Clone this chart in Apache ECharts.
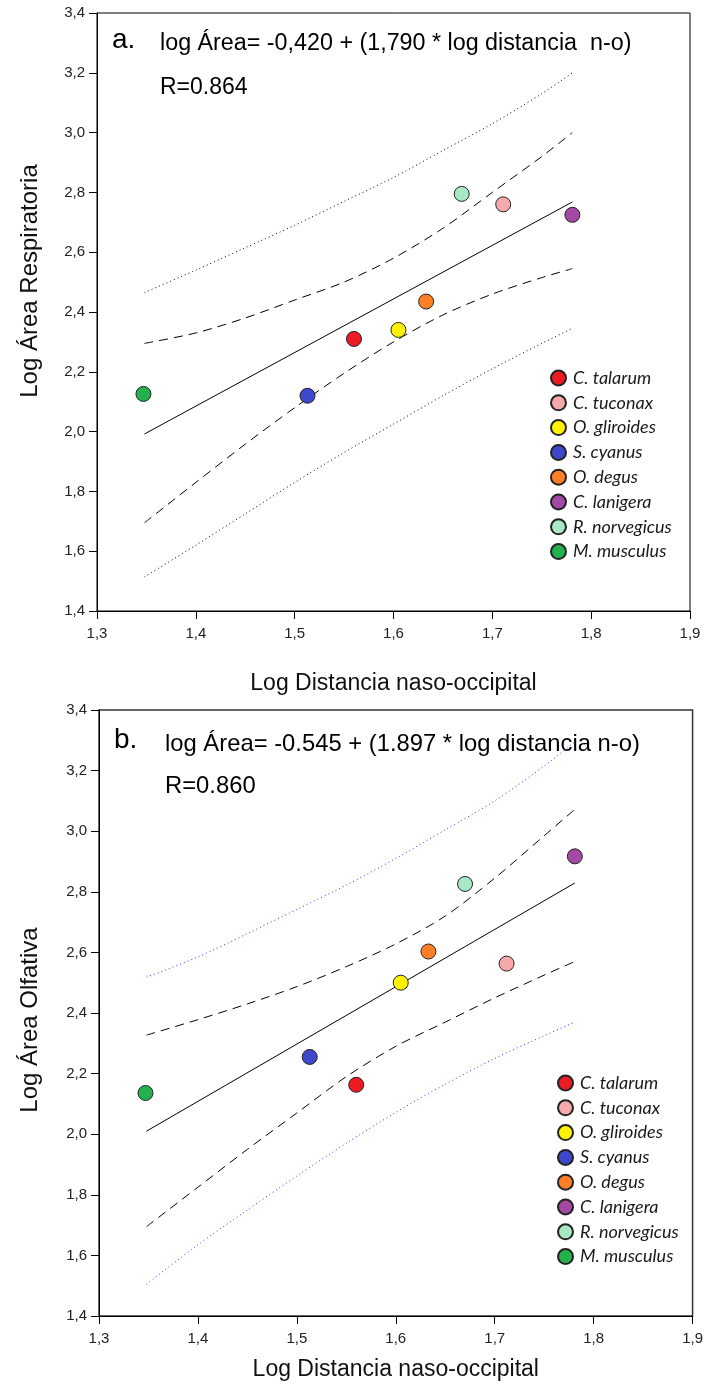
<!DOCTYPE html>
<html><head><meta charset="utf-8">
<script src="https://cdn.jsdelivr.net/npm/echarts@6/dist/echarts.min.js"></script>
<style>html,body{margin:0;padding:0;background:#fff}#c{width:706px;height:1389px}</style>
</head><body><div id="c"></div>
<script>
// ---- data ----
var species = ['C. talarum','C. tuconax','O. gliroides','S. cyanus','O. degus','C. lanigera','R. norvegicus','M. musculus'];
var colors = ['#ed1c24','#f5a9ab','#fff200','#3f48cc','#ff7f27','#a349a4','#a8e8c4','#22b14c'];
var xA = [1.560, 1.711, 1.605, 1.513, 1.633, 1.781, 1.669, 1.347];
var yA = [2.310, 2.760, 2.340, 2.120, 2.435, 2.725, 2.795, 2.126];
var xB = [1.560, 1.712, 1.605, 1.513, 1.633, 1.781, 1.670, 1.347];
var yB = [2.163, 2.563, 2.500, 2.255, 2.603, 2.917, 2.826, 2.136];

var bandX = [1.348, 1.40, 1.45, 1.50, 1.55, 1.60, 1.65, 1.70, 1.75, 1.781];
var regAx = [1.348, 1.781], regAy = [1.992, 2.768];
var ciUpA = [2.295, 2.330, 2.380, 2.440, 2.500, 2.580, 2.680, 2.800, 2.920, 3.000];
var ciLoA = [1.695, 1.830, 1.958, 2.080, 2.195, 2.300, 2.390, 2.460, 2.515, 2.545];
var piUpA = [2.465, 2.540, 2.615, 2.690, 2.770, 2.850, 2.940, 3.030, 3.130, 3.200];
var piLoA = [1.514, 1.620, 1.725, 1.830, 1.930, 2.025, 2.120, 2.210, 2.295, 2.345];

var regBx = [1.348, 1.781], regBy = [2.010, 2.829];
var ciUpB = [2.327, 2.378, 2.430, 2.487, 2.553, 2.628, 2.720, 2.845, 2.985, 3.072];
var ciLoB = [1.695, 1.825, 1.950, 2.070, 2.190, 2.290, 2.370, 2.450, 2.525, 2.570];
var piUpB = [2.518, 2.585, 2.662, 2.742, 2.822, 2.910, 3.005, 3.100, 3.215, 3.295];
var piLoB = [1.505, 1.635, 1.750, 1.862, 1.970, 2.072, 2.165, 2.250, 2.325, 2.370];

var xTicks = ['1,3','1,4','1,5','1,6','1,7','1,8','1,9'];
var yTicks = ['1,4','1,6','1,8','2,0','2,2','2,4','2,6','2,8','3,0','3,2','3,4'];

var eqA = 'log Área= -0,420 + (1,790 * log distancia  n-o)', rA = 'R=0.864';
var eqB = 'log Área= -0.545 + (1.897 * log distancia n-o)', rB = 'R=0.860';
var xTitle = 'Log Distancia naso-occipital';
var yTitleA = 'Log Área Respiratoria', yTitleB = 'Log Área Olfativa';

// ---- build ----
function zip(xs, ys){ return xs.map(function(x,i){ return [x, ys[i]]; }); }
var tickFont = {fontFamily:'Liberation Sans Narrow, Liberation Sans, Arial', fontSize:15, color:'#222'};
function xAxis(idx, gap){
  return {type:'value', gridIndex:idx, min:1.3, max:1.9, interval:0.1,
    name:xTitle, nameLocation:'middle', nameGap:gap,
    nameTextStyle:{fontFamily:'Liberation Sans, Arial', fontSize:23, color:'#111'},
    axisLine:{lineStyle:{color:'#000', width:1}}, axisTick:{inside:false, length:8, lineStyle:{color:'#000'}},
    splitLine:{show:false},
    axisLabel:Object.assign({margin:15, formatter:function(v){ return xTicks[Math.round((v-1.3)*10)]; }}, tickFont)};
}
function yAxis(idx){
  return {type:'value', gridIndex:idx, min:1.4, max:3.4, interval:0.2,
    axisLine:{lineStyle:{color:'#000', width:1}}, axisTick:{inside:false, length:8, lineStyle:{color:'#000'}},
    splitLine:{show:false},
    axisLabel:Object.assign({margin:12, formatter:function(v){ return yTicks[Math.round((v-1.4)*5)]; }}, tickFont)};
}
function line(idx, data, type, color){
  return {type:'line', xAxisIndex:idx, yAxisIndex:idx, data:data, symbol:'none', smooth:0.3,
    silent:true, lineStyle:{color:color, width:1, type:type}, z:2};
}
var series = [];
series.push(Object.assign(line(0, zip(regAx, regAy), 'solid', '#000'), {smooth:false}));
series.push(line(0, zip(bandX, ciUpA), [9,6], '#000'));
series.push(line(0, zip(bandX, ciLoA), [9,6], '#000'));
series.push(line(0, zip(bandX, piUpA), [1,3], '#000'));
series.push(line(0, zip(bandX, piLoA), [1,3], '#000'));
series.push(Object.assign(line(1, zip(regBx, regBy), 'solid', '#000'), {smooth:false}));
series.push(line(1, zip(bandX, ciUpB), [9,6], '#000'));
series.push(line(1, zip(bandX, ciLoB), [9,6], '#000'));
series.push(line(1, zip(bandX, piUpB), [1,3], '#3333ff'));
series.push(line(1, zip(bandX, piLoB), [1,3], '#3333ff'));
species.forEach(function(s,i){
  var st = {color:colors[i], borderColor:'#222', borderWidth:1, opacity:1};
  series.push({type:'scatter', name:s, xAxisIndex:0, yAxisIndex:0, data:[[xA[i], yA[i]]], symbolSize:15, itemStyle:st, z:5});
  series.push({type:'scatter', name:s, xAxisIndex:1, yAxisIndex:1, data:[[xB[i], yB[i]]], symbolSize:15, itemStyle:st, z:5});
});
var legendStyle = {orient:'vertical', icon:'circle', itemWidth:15, itemHeight:15, itemGap:6.8,
  textStyle:{fontFamily:'Lato, Open Sans, sans-serif', fontStyle:'italic', fontSize:18, color:'#1a1a1a', padding:[0,0,0,2]},
  selectedMode:false, data:species};
var chart = echarts.init(document.getElementById('c'));
chart.setOption({
  animation:false,
  grid:[{left:97, top:13, width:593, height:598, show:true, borderColor:'#000', borderWidth:1, backgroundColor:'transparent'},
        {left:99, top:710, width:595, height:606, show:true, borderColor:'#333', borderWidth:1.5, backgroundColor:'transparent'}],
  xAxis:[xAxis(0, 61), xAxis(1, 42)],
  yAxis:[yAxis(0), yAxis(1)],
  legend:[Object.assign({left:545, top:364}, legendStyle), Object.assign({left:552, top:1069}, legendStyle)],
  graphic:[
    {type:'text', left:112, top:26, style:{text:'a.', font:'28px Liberation Sans, Arial', fill:'#000'}},
    {type:'text', left:160, top:32, style:{text:eqA, font:'23.3px Liberation Sans, Arial', fill:'#000'}},
    {type:'text', left:160, top:76, style:{text:rA, font:'23px Liberation Sans, Arial', fill:'#000'}},
    {type:'text', left:114, top:726, style:{text:'b.', font:'28px Liberation Sans, Arial', fill:'#000'}},
    {type:'text', left:165, top:732, style:{text:eqB, font:'23.8px Liberation Sans, Arial', fill:'#000'}},
    {type:'text', left:165, top:774, style:{text:rB, font:'23.8px Liberation Sans, Arial', fill:'#000'}},
    {type:'text', x:30, y:281, rotation:Math.PI/2, style:{text:yTitleA, font:'24px Liberation Sans, Arial', fill:'#111', align:'center', verticalAlign:'middle'}},
    {type:'text', x:30, y:1020, rotation:Math.PI/2, style:{text:yTitleB, font:'24px Liberation Sans, Arial', fill:'#111', align:'center', verticalAlign:'middle'}}
  ],
  series:series
});
</script></body></html>
